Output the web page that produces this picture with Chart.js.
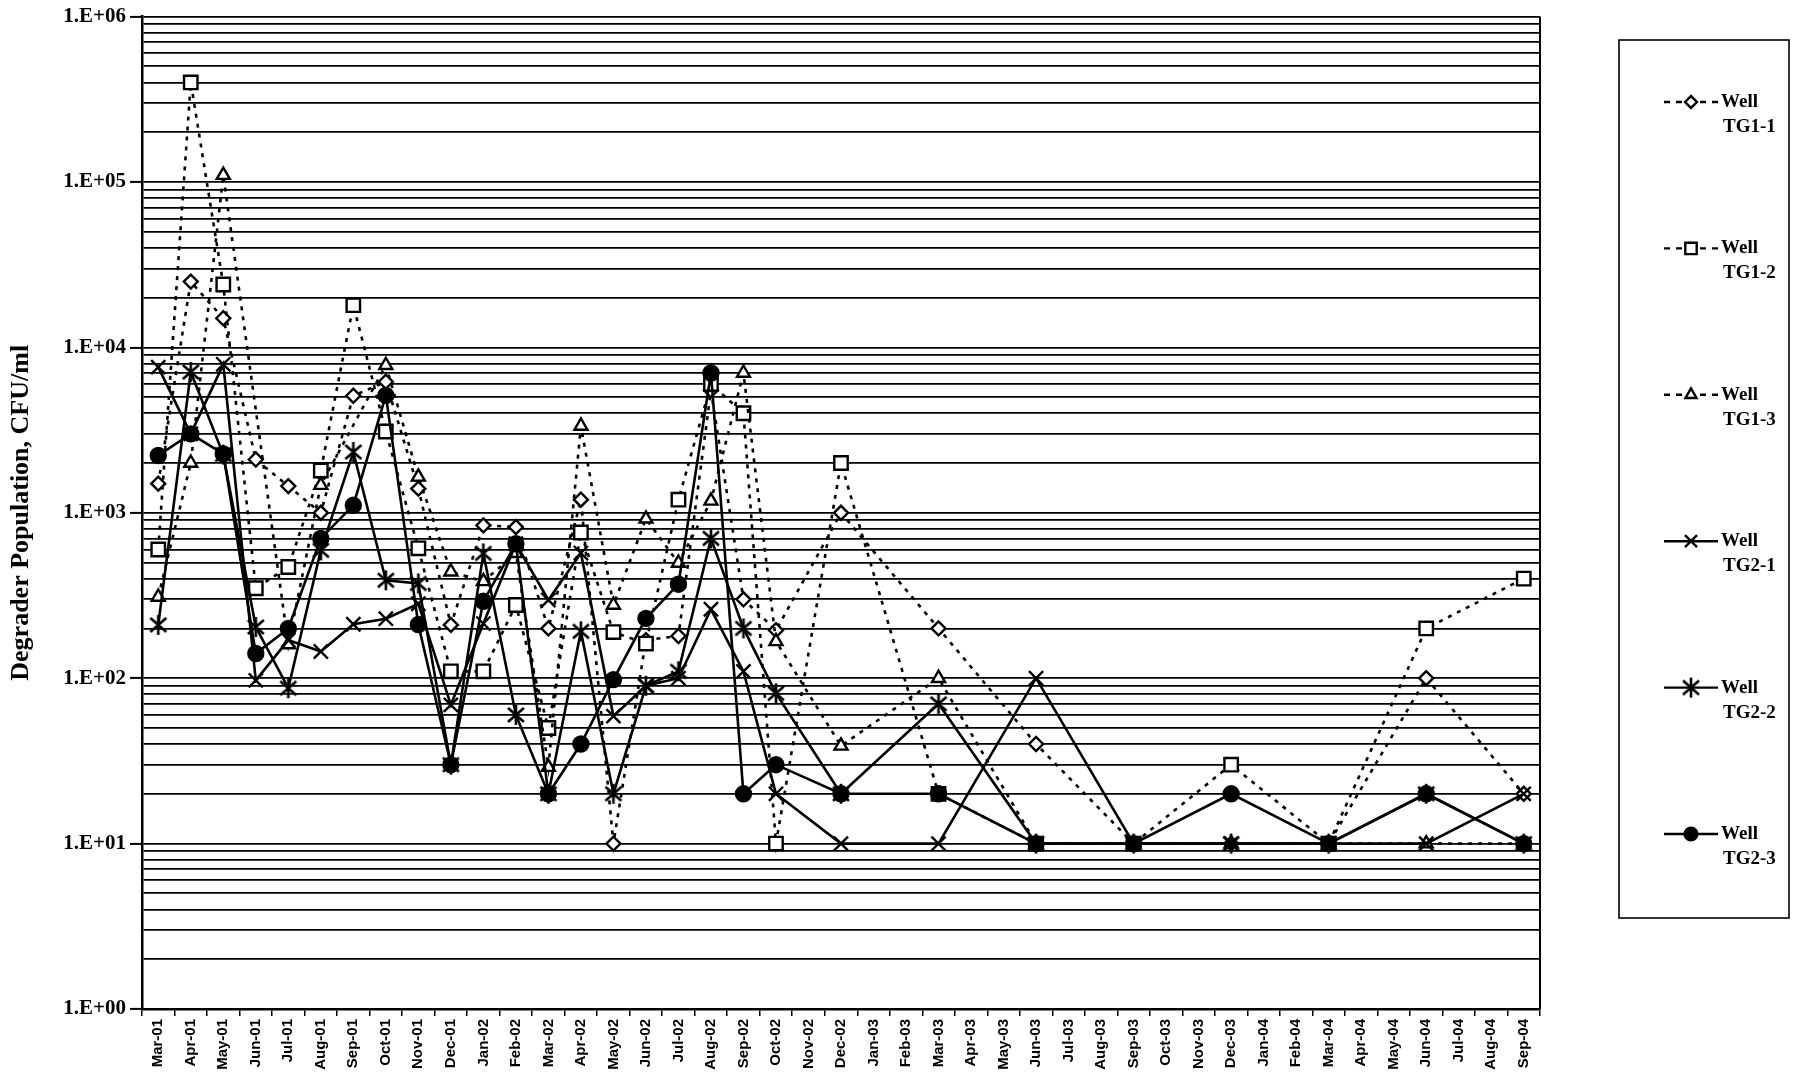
<!DOCTYPE html>
<html>
<head>
<meta charset="utf-8">
<script src="https://cdn.jsdelivr.net/npm/chart.js@4.4.1/dist/chart.umd.min.js"></script>
<style>
  html, body { margin: 0; padding: 0; background: #fff; }
</style>
</head>
<body>
<canvas id="line_chart" width="1793" height="1072"></canvas>
<script>
// categories (sampling months)
var months = ["Mar-01","Apr-01","May-01","Jun-01","Jul-01","Aug-01","Sep-01","Oct-01","Nov-01","Dec-01",
  "Jan-02","Feb-02","Mar-02","Apr-02","May-02","Jun-02","Jul-02","Aug-02","Sep-02","Oct-02","Nov-02","Dec-02",
  "Jan-03","Feb-03","Mar-03","Apr-03","May-03","Jun-03","Jul-03","Aug-03","Sep-03","Oct-03","Nov-03","Dec-03",
  "Jan-04","Feb-04","Mar-04","Apr-04","May-04","Jun-04","Jul-04","Aug-04","Sep-04"];

// degrader population, CFU/ml
var tg11 = [1500, 25000, 15000, 2100, 1450, 1000, 5100, 6200, 1400, 210, 840, 820, 200, 1200, 10, 170, 180, 5500, 300, 195, null, 1000,
  null, null, 200, null, null, 40, null, null, 10, null, null, 10, null, null, 10, null, null, 100, null, null, 20];
var tg12 = [600, 400000, 24000, 350, 470, 1800, 18000, 3100, 610, 110, 110, 277, 50, 760, 190, 162, 1200, 6000, 4000, 10, null, 2000,
  null, null, 20, null, null, 10, null, null, 10, null, null, 30, null, null, 10, null, null, 200, null, null, 400];
var tg13 = [310, 2000, 110000, null, 160, 1470, null, 7800, 1650, 440, 385, 570, 29, 3350, 277, 920, 497, 1180, 7000, 167, null, 39,
  null, null, 100, null, null, 10, null, null, 10, null, null, 10, null, null, 10, null, null, 10, null, null, 10];
var tg21 = [7600, 3000, 7900, 97, 170, 145, 212, 229, 282, 69, 214, 650, 297, 571, 59, 90, 100, 261, 110, 20, null, 10,
  null, null, 10, null, null, 100, null, null, 10, null, null, 10, null, null, 10, null, null, 10, null, null, 20];
var tg22 = [210, 7100, 2250, 204, 87, 593, 2330, 391, 374, 30, 568, 60, 20, 192, 20, 90, 110, 700, 200, 81, null, 20,
  null, null, 70, null, null, 10, null, null, 10, null, null, 10, null, null, 10, null, null, 20, null, null, 10];
var tg23 = [2220, 3000, 2270, 141, 200, 700, 1110, 5130, 211, 30, 292, 650, 20, 40, 98, 230, 370, 7000, 20, 30, null, 20,
  null, null, 20, null, null, 10, null, null, 10, null, null, 20, null, null, 10, null, null, 20, null, null, 10];

var yTickLabels = ["1.E+00", "1.E+01", "1.E+02", "1.E+03", "1.E+04", "1.E+05", "1.E+06"];
var wellNames = ["TG1-1", "TG1-2", "TG1-3", "TG2-1", "TG2-2", "TG2-3"];

// asterisk marker (x with a vertical bar)
function makeAsterisk() {
  var c = document.createElement('canvas');
  c.width = 22; c.height = 22;
  var g = c.getContext('2d');
  g.strokeStyle = '#000'; g.lineWidth = 2.6;
  g.beginPath();
  g.moveTo(3, 4); g.lineTo(19, 18);
  g.moveTo(19, 4); g.lineTo(3, 18);
  g.moveTo(11, 1); g.lineTo(11, 21);
  g.stroke();
  return c;
}
var asterisk = makeAsterisk();

function dotted(label, data, style, radius, order) {
  return {
    label: label, data: data, spanGaps: true, tension: 0, order: order,
    borderColor: '#000', borderWidth: 2.6, borderDash: [4, 6],
    pointStyle: style, pointRadius: radius, pointBorderWidth: 2.4,
    pointBackgroundColor: '#fff', pointBorderColor: '#000'
  };
}
function solid(label, data, style, radius, fill, order) {
  return {
    label: label, data: data, spanGaps: true, tension: 0, order: order,
    borderColor: '#000', borderWidth: 2.6, borderDash: [],
    pointStyle: style, pointRadius: radius, pointBorderWidth: 2.4,
    pointBackgroundColor: fill, pointBorderColor: '#000'
  };
}

var datasets = [
  dotted(wellNames[0], tg11, 'rectRot', 7, 6),
  dotted(wellNames[1], tg12, 'rect', 9.5, 5),
  dotted(wellNames[2], tg13, 'triangle', 7.5, 4),
  solid(wellNames[3], tg21, 'crossRot', 10, '#000', 3),
  solid(wellNames[4], tg22, asterisk, 10, '#000', 2),
  solid(wellNames[5], tg23, 'circle', 7.5, '#000', 1)
];

var framePlugin = {
  id: 'frame',
  afterDatasetsDraw: function (chart) {
    var a = chart.chartArea, ctx = chart.ctx;
    ctx.save();
    ctx.strokeStyle = '#000';
    ctx.lineWidth = 2;
    ctx.beginPath();
    ctx.moveTo(a.right, a.top); ctx.lineTo(a.right, a.bottom);
    ctx.stroke();
    ctx.restore();
  }
};

var wellLegend = {
  id: 'wellLegend',
  afterDraw: function (chart) {
    var ctx = chart.ctx;
    ctx.save();
    ctx.strokeStyle = '#000';
    ctx.lineWidth = 1.6;
    ctx.strokeRect(1619, 40, 170, 878);
    chart.data.datasets.forEach(function (ds, i) {
      var y = 102 + i * 146.4;
      ctx.strokeStyle = '#000';
      ctx.lineWidth = 2.4;
      ctx.setLineDash(ds.borderDash.length ? [6, 6] : []);
      ctx.beginPath(); ctx.moveTo(1664, y); ctx.lineTo(1718, y); ctx.stroke();
      ctx.setLineDash([]);
      ctx.fillStyle = ds.pointBackgroundColor;
      ctx.lineWidth = ds.pointBorderWidth;
      Chart.helpers.drawPoint(ctx, {
        pointStyle: ds.pointStyle, radius: ds.pointRadius * 0.85,
        borderWidth: ds.pointBorderWidth, rotation: 0
      }, 1691, y);
      ctx.fillStyle = '#000';
      ctx.font = 'bold 19px "Liberation Serif"';
      ctx.textAlign = 'left';
      ctx.textBaseline = 'middle';
      ctx.fillText('Well', 1721, y);
      ctx.fillText(ds.label, 1723, y + 25);
    });
    ctx.restore();
  }
};

new Chart(document.getElementById('line_chart').getContext('2d'), {
  type: 'line',
  data: { labels: months, datasets: datasets },
  options: {
    responsive: false,
    animation: false,
    devicePixelRatio: 1,
    layout: { padding: { top: 16, right: 253, bottom: 0, left: 0 } },
    plugins: { legend: { display: false }, tooltip: { enabled: false } },
    scales: {
      x: {
        type: 'category',
        offset: true,
        grid: { display: true, drawOnChartArea: false, drawTicks: true, tickLength: 7, color: '#000', lineWidth: 1.5, offset: true },
        border: { display: true, color: '#000', width: 2.5 },
        ticks: {
          autoSkip: false, maxRotation: 90, minRotation: 90, padding: 3, color: '#000',
          font: { family: '"Liberation Sans", Arial, sans-serif', weight: 'bold', size: 15 }
        },
        afterFit: function (s) { s.height = 63; }
      },
      y: {
        type: 'logarithmic',
        min: 1,
        max: 1000000,
        afterBuildTicks: function (scale) {
          var t = [];
          for (var e = 0; e < 6; e++) {
            for (var m = 1; m < 10; m++) t.push({ value: m * Math.pow(10, e) });
          }
          t.push({ value: 1000000 });
          scale.ticks = t;
        },
        grid: {
          color: '#000', lineWidth: 1.8, drawTicks: true, tickLength: 12, tickWidth: 2,
          tickColor: function (c) {
            var v = c.tick ? c.tick.value : 0;
            var l = Math.log10(v);
            return Math.abs(l - Math.round(l)) < 1e-9 ? '#000' : 'rgba(0,0,0,0)';
          }
        },
        border: { display: true, color: '#000', width: 2.5 },
        ticks: {
          autoSkip: false, padding: 4, color: '#000',
          font: { family: '"Liberation Serif", "Times New Roman", serif', weight: 'bold', size: 21 },
          callback: function (v) {
            var l = Math.log10(v);
            if (Math.abs(l - Math.round(l)) < 1e-9) return yTickLabels[Math.round(l)];
            return '';
          }
        },
        title: {
          display: true, text: 'Degrader Population, CFU/ml', color: '#000',
          font: { family: '"Liberation Serif", "Times New Roman", serif', weight: 'bold', size: 26 },
          padding: { top: 6, bottom: 0 }
        },
        afterFit: function (s) { s.width = 142; }
      }
    }
  },
  plugins: [framePlugin, wellLegend]
});
</script>
</body>
</html>
